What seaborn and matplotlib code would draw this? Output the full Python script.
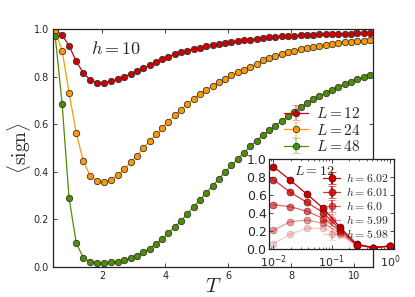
import numpy as np
import matplotlib
matplotlib.use("Agg")
import matplotlib.pyplot as plt
import seaborn as sns
from matplotlib.colors import to_rgba

# main panel: <sign> vs T at h=10
T = [0.5, 0.72, 0.94, 1.17, 1.39, 1.61, 1.83, 2.06, 2.28, 2.5,
     2.7, 2.9, 3.1, 3.3, 3.5, 3.7, 3.9, 4.1, 4.3, 4.5,
     4.7, 4.9, 5.1, 5.3, 5.5, 5.7, 5.9, 6.1, 6.3, 6.5,
     6.7, 6.9, 7.1, 7.3, 7.5, 7.7, 7.9, 8.1, 8.3, 8.5,
     8.7, 8.9, 9.1, 9.3, 9.5, 9.7, 9.9, 10.1, 10.3, 10.5]

sign_L12 = [0.995, 0.976, 0.929, 0.864, 0.816, 0.786, 0.774, 0.774, 0.780, 0.790,
            0.800, 0.811, 0.822, 0.835, 0.849, 0.861, 0.873, 0.884, 0.894, 0.902,
            0.909, 0.916, 0.921, 0.929, 0.934, 0.938, 0.943, 0.947, 0.950, 0.953,
            0.955, 0.958, 0.964, 0.966, 0.968, 0.969, 0.971, 0.972, 0.973, 0.975,
            0.976, 0.977, 0.977, 0.979, 0.980, 0.981, 0.981, 0.983, 0.984, 0.984]

sign_L24 = [0.992, 0.909, 0.733, 0.562, 0.446, 0.384, 0.360, 0.356, 0.367, 0.387,
            0.412, 0.440, 0.468, 0.499, 0.529, 0.557, 0.584, 0.611, 0.637, 0.661,
            0.685, 0.707, 0.727, 0.744, 0.761, 0.777, 0.791, 0.805, 0.818, 0.829,
            0.840, 0.853, 0.868, 0.878, 0.887, 0.895, 0.902, 0.909, 0.915, 0.920,
            0.926, 0.930, 0.934, 0.938, 0.941, 0.944, 0.947, 0.950, 0.951, 0.954]

sign_L48 = [0.971, 0.685, 0.290, 0.101, 0.039, 0.022, 0.016, 0.016, 0.020, 0.022,
            0.028, 0.037, 0.047, 0.062, 0.077, 0.098, 0.118, 0.142, 0.168, 0.193,
            0.224, 0.252, 0.282, 0.311, 0.340, 0.370, 0.399, 0.427, 0.454, 0.480,
            0.507, 0.531, 0.553, 0.574, 0.594, 0.613, 0.633, 0.653, 0.671, 0.688,
            0.705, 0.718, 0.732, 0.745, 0.757, 0.769, 0.779, 0.788, 0.798, 0.807]

main_labels = ["$L=12$", "$L=24$", "$L=48$"]
main_colors = ["#cc0000", "#ff9900", "#4e8f00"]

# inset: L=12, several h, log x axis
inset_x = [0.01, 0.0193, 0.0373, 0.072, 0.139, 0.268, 0.518, 1.0]
h602 = [0.915, 0.767, 0.611, 0.452, 0.241, 0.055, 0.015, 0.033]
h601 = [0.770, 0.633, 0.519, 0.403, 0.219, 0.050, 0.015, 0.033]
h600 = [0.493, 0.470, 0.421, 0.338, 0.200, 0.046, 0.015, 0.033]
h599 = [0.208, 0.303, 0.322, 0.286, 0.176, 0.042, 0.015, 0.033]
h598 = [0.059, 0.163, 0.230, 0.230, 0.156, 0.038, 0.015, 0.033]
inset_labels = ["$h=6.02$", "$h=6.01$", "$h=6.0$", "$h=5.99$", "$h=5.98$"]
inset_alphas = [1.0, 0.8, 0.6, 0.4, 0.2]
inset_xticks = [0.01, 0.1, 1.0]
inset_xticklabels = ["$10^{-2}$", "$10^{-1}$", "$10^{0}$"]

sns.set_style("ticks", {"xtick.direction": "in", "ytick.direction": "in"})
plt.rcParams["font.family"] = ["DejaVu Sans"]
plt.rcParams["mathtext.fontset"] = "cm"
plt.rcParams["xtick.top"] = True
plt.rcParams["ytick.right"] = True
plt.rcParams["axes.edgecolor"] = "#222222"
plt.rcParams["axes.linewidth"] = 0.9

fig = plt.figure(figsize=(4.15, 2.97), dpi=100)
ax = fig.add_axes([0.1277, 0.101, 0.771, 0.8013])

edge = "#333333"
for vals, col in zip([sign_L12, sign_L24, sign_L48], main_colors):
    sns.lineplot(x=T, y=vals, ax=ax, color=col, lw=0.9, marker="o", ms=4.6,
                 mec=edge, mew=0.6, legend=False)

handles = []
for lab, col in zip(main_labels, main_colors):
    h = ax.errorbar([np.nan], [np.nan], yerr=[np.nan], fmt="o-", color=col, ms=4.6,
                    mec=edge, mew=0.6, lw=0.9, ecolor=to_rgba(col, 0.4),
                    elinewidth=1.5, capsize=3, label=lab)
    handles.append(h)
ax.legend(handles=handles, loc="center right", bbox_to_anchor=(0.99, 0.575),
          frameon=False, fontsize=11, handlelength=1.6, handletextpad=0.5,
          labelspacing=0.1, borderpad=0.1)

ax.set_xlim(0.43, 10.6)
ax.set_ylim(0, 1.0)
ax.set_xticks([2, 4, 6, 8, 10])
ax.set_yticks([0.0, 0.2, 0.4, 0.6, 0.8, 1.0])
ax.tick_params(labelsize=7, length=3, width=0.6, pad=3)
ax.set_xlabel("$T$", fontsize=15, labelpad=-4)
ax.set_ylabel(r"$\langle\mathrm{sign}\rangle$", fontsize=14, labelpad=0)
ax.text(2.43, 0.915, "$h=10$", fontsize=13, ha="center", va="center")

# inset
axin = fig.add_axes([0.649, 0.1616, 0.301, 0.303])
inset_h = [h602, h601, h600, h599, h598]
in_handles = []
for vals, lab, a in zip(inset_h, inset_labels, inset_alphas):
    sns.lineplot(x=inset_x, y=vals, ax=axin, color="#cc0000", alpha=a, lw=0.9,
                 marker="o", ms=5, mec="#550000", mew=0.5, legend=False)
    h = axin.errorbar([np.nan], [np.nan], yerr=[np.nan], fmt="o-", color="#cc0000",
                      alpha=a, ms=5, mec="#550000", mew=0.5, lw=0.9,
                      ecolor=to_rgba("#cc0000", 0.4 * a), elinewidth=1.5,
                      capsize=3, label=lab)
    in_handles.append(h)
axin.set_xscale("log")
axin.set_xlim(0.0085, 1.19)
axin.set_ylim(0, 1.0)
axin.set_xticks(inset_xticks, labels=inset_xticklabels)
axin.set_yticks([0.0, 0.2, 0.4, 0.6, 0.8, 1.0])
for lab in axin.get_xticklabels():
    lab.set_math_fontfamily("dejavusans")
axin.tick_params(labelsize=9, length=3, width=0.6, pad=2)
axin.tick_params(axis="x", labelsize=8, pad=3)
axin.tick_params(which="minor", length=1.5, width=0.5)
axin.text(0.2, 0.87, "$L=12$", transform=axin.transAxes, fontsize=10,
          ha="left", va="center")
axin.legend(handles=in_handles, loc="upper right", bbox_to_anchor=(1.01, 0.93),
            frameon=False, fontsize=8.5, handlelength=1.4, handletextpad=0.5,
            labelspacing=0.08, borderpad=0.1)

fig.savefig("out.png", dpi=100)
